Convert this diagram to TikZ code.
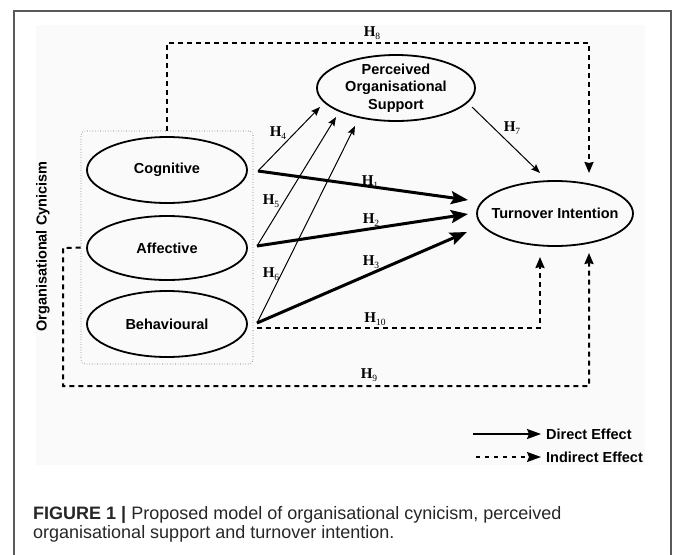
\documentclass[tikz,border=0pt]{standalone}
\usepackage{fontspec}
\setmainfont{Liberation Sans}
\newfontfamily\hfont{Liberation Serif}
\usetikzlibrary{arrows.meta,shapes.geometric,calc}
\newcommand{\hyp}[1]{\textbf{H}\raisebox{-2.5pt}{\fontsize{9.5}{9.5}\selectfont #1}}
\tikzset{
  latent/.style={draw, ellipse, line width=1.8pt, inner sep=0pt},
  lbl/.style={font=\fontsize{14.5}{17.5}\selectfont\bfseries, align=center, inner sep=0pt},
  thickarr/.style={line width=3pt, -{Stealth[length=17pt,width=13pt,inset=3pt]}},
  thinarr/.style={line width=1pt, -{Stealth[length=9pt,width=7pt,inset=1.5pt]}},
  indarr/.style={line width=2pt, dash pattern=on 5pt off 4pt, -{Stealth[length=11pt,width=9pt,inset=1pt]}},
  hlab/.style={font=\hfont\fontsize{15}{15}\selectfont, inner sep=0pt},
  legtxt/.style={font=\fontsize{14.5}{17}\selectfont\bfseries, anchor=west, inner sep=0pt},
  legtip/.style={-{Stealth[length=14pt,width=10pt,inset=2pt]}},
}
\begin{document}
\begin{tikzpicture}[x=1pt,y=-1pt]
\useasboundingbox (0,0) rectangle (674,554);
\fill[black!2] (36,25) rectangle (645,465);
\draw[black!65, line width=1.3pt] (14,560) -- (14,11) -- (671,11) -- (671,560);

% nodes
\node[latent, minimum width=158, minimum height=66,
  label={[lbl]center:{Perceived\\Organisational\\Support}}] (pos) at (396,88) {};
\node[draw=black!60, dotted, line width=0.6pt, rounded corners=4pt,
  minimum width=172, minimum height=233, inner sep=0pt] (grp) at (167,247.5) {};
\node[latent, minimum width=160, minimum height=66, label={[lbl]center:Cognitive}] (cog) at (167,170) {};
\node[latent, minimum width=160, minimum height=64, label={[lbl]center:Affective}] (aff) at (167,248) {};
\node[latent, minimum width=160, minimum height=66, label={[lbl]center:Behavioural}] (beh) at (167,324) {};
\node[latent, minimum width=156, minimum height=65, label={[lbl]center:Turnover Intention}] (turn) at (555,213.5) {};
\node[lbl, rotate=90] (oc) at (43,246.5) {Organisational Cynicism};

% connection points
\coordinate (cO) at (258,171);
\coordinate (aO) at (257,246);
\coordinate (bO) at (257,323);
\coordinate (t1) at (468,200);
\coordinate (t2) at (468,214);
\coordinate (t3) at (467,232);
\coordinate (p4) at (320,107);
\coordinate (p5) at (336,117);
\coordinate (p6) at (355,126);
\coordinate (p7) at (472,107);
\coordinate (t7) at (540,173);

% direct effects
\draw[thickarr] (cO) -- (t1);
\draw[thickarr] (aO) -- (t2);
\draw[thickarr] (bO) -- (t3);
\draw[thinarr] (cO) -- (p4);
\draw[thinarr] (aO) -- (p5);
\draw[thinarr] (bO) -- (p6);
\draw[thinarr] (p7) -- (t7);

% indirect effects
\draw[indarr] (grp.north) -- (167,43) -- (589,43) -- (589,173);
\draw[indarr] (257,328) -- (540,328) -- (540,257);
\draw[indarr] (grp.west) -- (63,248) -- (63,386) -- (589,386) -- (589,253);

% labels
\node[hlab] (h1) at (370,182) {\hyp{1}};
\node[hlab] (h2) at (371,220) {\hyp{2}};
\node[hlab] (h3) at (371,262) {\hyp{3}};
\node[hlab] (h4) at (278,133) {\hyp{4}};
\node[hlab] (h5) at (271,201) {\hyp{5}};
\node[hlab] (h6) at (271,274) {\hyp{6}};
\node[hlab] (h7) at (512,128) {\hyp{7}};
\node[hlab] (h8) at (372,33) {\hyp{8}};
\node[hlab] (h9) at (369,375) {\hyp{9}};
\node[hlab] (h10) at (375,319) {\hyp{10}};

% legend
\node[legtxt] (dl) at (546,434) {Direct Effect};
\node[legtxt] (il) at (546,457) {Indirect Effect};
\coordinate (ds) at (473,434);
\coordinate (is) at (476,457);
\draw[line width=1.6pt, legtip] (ds) -- ([xshift=-5pt]dl.west);
\draw[line width=1.6pt, dash pattern=on 4pt off 5pt, legtip] (is) -- ([xshift=-5pt]il.west);

% caption
\node[anchor=north west, align=left, inner sep=0pt, text=black!85,
  font=\fontsize{18}{19}\selectfont] (cap) at (33,506)
  {\textbf{FIGURE 1 |} Proposed model of organisational cynicism, perceived\\
   organisational support and turnover intention.};
\end{tikzpicture}
\end{document}
